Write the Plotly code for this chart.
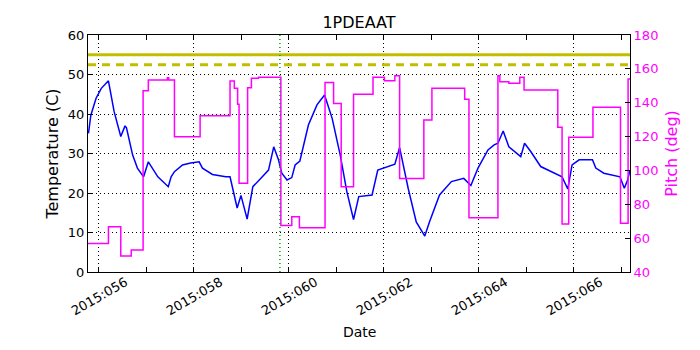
import plotly.graph_objects as go

# temperature (left axis), x = day of year 2015
temp_days = [55.78, 55.83, 55.94, 56.05, 56.20, 56.32, 56.46, 56.55, 56.58, 56.71, 56.81, 56.94,
             57.04, 57.14, 57.24, 57.46, 57.52, 57.59, 57.76, 57.93, 58.11, 58.18, 58.39, 58.67,
             58.76, 58.91, 58.99, 59.12, 59.24, 59.40, 59.57, 59.68, 59.78, 59.85, 59.96, 60.06,
             60.13, 60.23, 60.32, 60.41, 60.59, 60.75, 60.91, 61.08, 61.22, 61.36, 61.47, 61.75,
             61.87, 62.00, 62.23, 62.33, 62.51, 62.68, 62.86, 62.96, 63.17, 63.42, 63.68, 63.83,
             63.98, 64.19, 64.32, 64.40, 64.51, 64.63, 64.88, 64.96, 65.09, 65.30, 65.65, 65.75,
             65.87, 65.96, 66.11, 66.39, 66.46, 66.63, 66.97, 67.06, 67.13, 67.18]
temps = [35.1, 39.7, 44.0, 46.5, 48.4, 40.6, 34.3, 37.0, 36.5, 29.6, 26.3, 24.1,
         27.9, 25.9, 24.1, 21.6, 24.1, 25.4, 27.1, 27.6, 27.9, 26.3, 24.7, 24.1,
         24.1, 16.2, 19.4, 13.4, 21.6, 23.6, 25.8, 31.7, 28.4, 25.0, 23.3, 23.9,
         27.1, 28.1, 32.8, 37.2, 42.3, 44.8, 38.9, 29.6, 20.3, 13.3, 19.1, 19.5,
         25.8, 26.3, 27.3, 31.5, 21.2, 12.7, 9.1, 12.7, 19.5, 22.9, 23.7, 21.9,
         26.3, 30.9, 32.2, 32.6, 35.7, 31.7, 29.2, 32.6, 30.5, 26.7, 24.6, 24.1,
         21.0, 27.1, 28.4, 28.4, 26.3, 25.0, 24.1, 21.2, 23.3, 25.8]

# pitch (right axis), step values starting at each day
pitch_days = [55.77, 56.20, 56.46, 56.68, 56.93, 57.04, 57.44, 57.47, 57.59, 58.13, 58.76, 58.85,
              58.92, 58.95, 59.13, 59.21, 59.36, 59.83, 60.06, 60.22, 60.76, 60.94, 61.10, 61.36,
              61.77, 62.01, 62.23, 62.33, 62.84, 63.01, 63.70, 63.79, 64.40, 64.44, 64.63, 64.86,
              64.95, 65.66, 65.75, 65.89, 66.40, 66.98, 67.14, 67.18]
pitch = [56.9, 66.8, 49.5, 53.0, 147.1, 153.4, 154.8, 153.4, 119.9, 132.3, 152.8, 148.5,
         139.1, 92.4, 148.9, 154.4, 155.0, 67.4, 72.7, 66.2, 152.0, 139.6, 90.4, 145.0,
         155.0, 153.0, 156.0, 95.3, 129.8, 148.5, 142.0, 72.1, 156.0, 152.4, 151.5, 155.0,
         147.5, 125.5, 68.4, 119.6, 137.3, 68.8, 154.0, 154.0]

planning_limit = 55.0
caution_limit = 52.5
event_day = 59.81

tick_days = [56, 58, 60, 62, 64, 66]
tick_labels = ["2015:056", "2015:058", "2015:060", "2015:062", "2015:064", "2015:066"]

MAG = "#ff00ff"
FONT = "DejaVu Sans"
GRID = dict(showgrid=True, gridcolor="black", griddash="1px,3px", gridwidth=1)

fig = go.Figure()
fig.add_trace(go.Scatter(x=temp_days, y=temps, mode="lines",
                         line=dict(color="#0000ff", width=1.5), showlegend=False))
fig.add_trace(go.Scatter(x=pitch_days, y=pitch, mode="lines", yaxis="y2",
                         line=dict(color=MAG, width=1.5, shape="hv"), showlegend=False))

fig.add_hline(y=planning_limit, line=dict(color="#bfbf00", width=3))
fig.add_hline(y=caution_limit, line=dict(color="#bfbf00", width=3, dash="8px,6px"))
fig.add_vline(x=event_day, line=dict(color="#00a000", width=1.5, dash="1px,3px"))

# rotated date labels, centred under each tick like the original
for d, lab in zip(tick_days, tick_labels):
    fig.add_annotation(x=d, y=0, xref="x", yref="paper", text=lab, showarrow=False,
                       textangle=-30, xanchor="center", yanchor="middle", yshift=-24,
                       font=dict(size=13))
fig.add_annotation(x=0.5, y=0, xref="paper", yref="paper", text="Date", showarrow=False,
                   xanchor="center", yanchor="middle", yshift=-60, font=dict(size=14))

# the page body adds an 8px offset, so margins are trimmed on the left/top
fig.update_layout(
    width=700, height=350,
    margin=dict(l=80, r=78, t=27, b=86, autoexpand=False),
    plot_bgcolor="white", paper_bgcolor="white",
    font=dict(family=FONT, size=13, color="black"),
    title=dict(text="1PDEAAT", x=0.5, xanchor="center", xref="paper",
               y=1 - 14 / 350, yref="container", yanchor="middle", font=dict(size=16)),
    xaxis=dict(range=[55.77, 67.18], tickvals=tick_days, showticklabels=False,
               ticks="inside", ticklen=5, tickcolor="black", automargin=False,
               showline=True, linecolor="black", linewidth=1, mirror="allticks",
               minor=dict(tickmode="linear", tick0=55, dtick=1, ticks="inside",
                          ticklen=3, tickcolor="black", showgrid=False),
               zeroline=False, **GRID),
    yaxis=dict(range=[0, 60], dtick=10, ticks="inside", ticklen=5, tickcolor="black",
               showline=True, linecolor="black", linewidth=1, mirror=True, automargin=False,
               title=dict(text="Temperature (C)", standoff=5), zeroline=False, **GRID),
    yaxis2=dict(range=[40, 180], dtick=20, overlaying="y", side="right",
                ticks="inside", ticklen=5, tickcolor="black", automargin=False,
                tickfont=dict(color=MAG), showline=True, linecolor="black",
                showgrid=False, zeroline=False,
                title=dict(text="Pitch (deg)", font=dict(color=MAG), standoff=8)),
)

fig.write_html("out.html")
